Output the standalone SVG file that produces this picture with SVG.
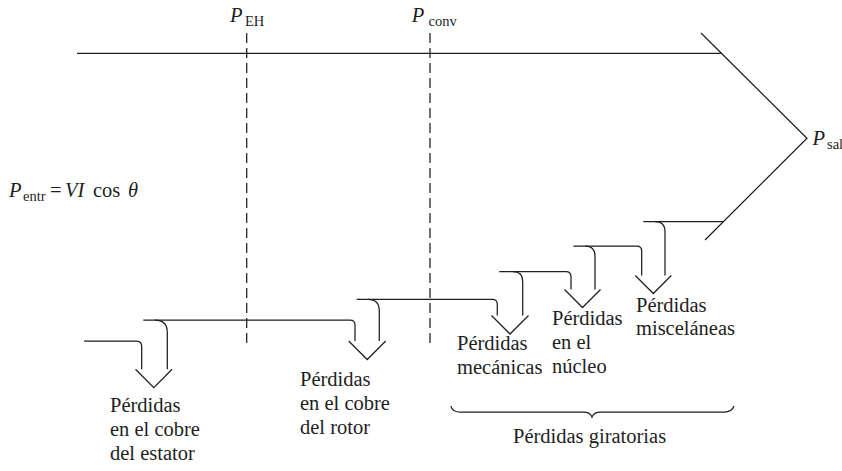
<svg xmlns="http://www.w3.org/2000/svg" width="842" height="471" viewBox="0 0 842 471">
<style>
.ln{fill:none;stroke:#1e1e1e;stroke-width:1.25;stroke-linejoin:miter}
.dash{fill:none;stroke:#1e1e1e;stroke-width:1.25;stroke-dasharray:10 5}
text{font-family:'Liberation Serif','Times New Roman',serif;font-size:20.5px;fill:#1e1e1e}
.it{font-style:italic}
.sub{font-size:14.5px}
</style>
<rect width="842" height="471" fill="#fff"/>
<g id="connectors">
  <path class="ln" d="M77,53.3 L721,53.3"/>
  <path class="ln" d="M701,33 L807,138.3 L705,240"/>
  <path class="dash" d="M246.7,33 L246.7,348"/>
  <path class="dash" d="M430,33 L430,348"/>
  <path class="ln" d="M84,341 L136.5,341 Q141.7,341 141.7,346.5 L141.7,369.3"/>
  <path class="ln" d="M143.3,320 L350,320 Q355,320 355,325 L355,341"/>
  <path class="ln" d="M356.7,299.3 L492.3,299.3 Q497.3,299.3 497.3,304.3 L497.3,315.5"/>
  <path class="ln" d="M499.3,271.7 L566,271.7 Q571,271.7 571,276.7 L571,289.5"/>
  <path class="ln" d="M573.3,246 L636.7,246 Q641.7,246 641.7,251 L641.7,275.5"/>
  <path class="ln" d="M643.3,221.7 L723.5,221.7"/>
  <path class="ln" d="M155,320 Q167.3,320 167.3,332.3 L167.3,369.3"/>
  <path class="ln" d="M368,299.3 Q379.3,299.3 379.3,310.6 L379.3,341"/>
  <path class="ln" d="M513,271.7 Q522.7,271.7 522.7,281.4 L522.7,315.5"/>
  <path class="ln" d="M585,246 Q595,246 595,256 L595,289.5"/>
  <path class="ln" d="M655,221.7 Q665,221.7 665,231.7 L665,275.5"/>
  <path class="ln" d="M135.5,369.3 L153.8,387.6 L172.1,369.3"/>
  <path class="ln" d="M348.7,341 L367.2,359.5 L385.7,341"/>
  <path class="ln" d="M491.5,315.5 L510,334 L528.5,315.5"/>
  <path class="ln" d="M564.5,289.5 L582.5,307.5 L600.5,289.5"/>
  <path class="ln" d="M635.3,275.5 L653.3,293.5 L671.3,275.5"/>
  <path class="ln" d="M451,406 Q452,412 460,412 L584,412 Q590,412 592,417 Q594,412 600,412 L724,412 Q732,412 734,406"/>
</g>
<g id="p-eh">
  <text><tspan class="it" x="230" y="22">P</tspan><tspan class="sub" x="245" y="26">EH</tspan></text>
</g>
<g id="p-conv">
  <text><tspan class="it" x="411.7" y="22">P</tspan><tspan class="sub" x="428.5" y="26">conv</tspan></text>
</g>
<g id="p-sal">
  <text><tspan class="it" x="812.5" y="145">P</tspan><tspan class="sub" x="827" y="149">sal</tspan></text>
</g>
<g id="p-entr">
  <text><tspan class="it" x="9" y="197">P</tspan><tspan class="sub" x="23" y="201">entr</tspan><tspan x="50" y="197">=</tspan><tspan class="it" x="65" y="197">VI</tspan><tspan x="93" y="197">cos</tspan><tspan class="it" x="128" y="197">θ</tspan></text>
</g>
<g id="loss-stator">
  <text><tspan x="110" y="412">Pérdidas</tspan><tspan x="110" y="436">en el cobre</tspan><tspan x="110" y="460">del estator</tspan></text>
</g>
<g id="loss-rotor">
  <text><tspan x="300" y="386">Pérdidas</tspan><tspan x="300" y="410">en el cobre</tspan><tspan x="300" y="434">del rotor</tspan></text>
</g>
<g id="loss-mech">
  <text><tspan x="457" y="350">Pérdidas</tspan><tspan x="457" y="374">mecánicas</tspan></text>
</g>
<g id="loss-core">
  <text><tspan x="552" y="325">Pérdidas</tspan><tspan x="552" y="349">en el</tspan><tspan x="552" y="373">núcleo</tspan></text>
</g>
<g id="loss-misc">
  <text><tspan x="636" y="312">Pérdidas</tspan><tspan x="636" y="335">misceláneas</tspan></text>
</g>
<g id="rot-losses">
  <text x="513" y="443">Pérdidas giratorias</text>
</g>
</svg>
